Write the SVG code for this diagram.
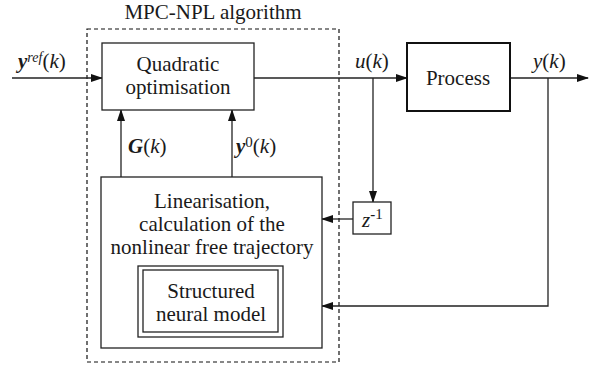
<svg xmlns="http://www.w3.org/2000/svg" width="591" height="365" viewBox="0 0 591 365" font-family="'Liberation Serif', 'Times New Roman', serif" font-size="21">
<defs>
<marker id="ah" markerWidth="12" markerHeight="8" refX="11" refY="4" orient="auto" markerUnits="userSpaceOnUse">
<path d="M0,0 L12,4 L0,8 Z" fill="#111"/>
</marker>
<style>
.box{fill:#fff;stroke:#222;stroke-width:1.3}
.thick{fill:#fff;stroke:#111;stroke-width:2}
.ln{fill:none;stroke:#222;stroke-width:1.3}
.dash{fill:none;stroke:#111;stroke-width:1.2;stroke-dasharray:4,3}
text{fill:#1a1a1a}
.c{text-anchor:middle}
.i{font-style:italic}
.b{font-weight:bold;font-style:italic}
</style>
</defs>
<rect width="591" height="365" fill="#fff"/>
<g id="mpc-frame">
<rect class="dash" x="87" y="29" width="252" height="333"/>
<text x="213" y="19" class="c">MPC-NPL algorithm</text>
</g>
<g id="connectors">
<line class="ln" x1="12" y1="78" x2="102" y2="78" marker-end="url(#ah)"/>
<line class="ln" x1="254" y1="78" x2="407" y2="78" marker-end="url(#ah)"/>
<line class="ln" x1="510" y1="78" x2="588" y2="78" marker-end="url(#ah)"/>
<line class="ln" x1="373" y1="78" x2="373" y2="202" marker-end="url(#ah)"/>
<line class="ln" x1="353" y1="219" x2="322" y2="219" marker-end="url(#ah)"/>
<polyline class="ln" points="548,78 548,306 322,306" marker-end="url(#ah)"/>
<line class="ln" x1="121" y1="177" x2="121" y2="110" marker-end="url(#ah)"/>
<line class="ln" x1="232" y1="177" x2="232" y2="110" marker-end="url(#ah)"/>
<text x="18" y="68"><tspan class="b">y</tspan><tspan class="i" font-size="14" dy="-6">ref</tspan><tspan dy="6">(</tspan><tspan class="i">k</tspan>)</text>
<text x="355" y="68"><tspan class="i">u</tspan>(<tspan class="i">k</tspan>)</text>
<text x="533" y="68"><tspan class="i">y</tspan>(<tspan class="i">k</tspan>)</text>
<text x="128" y="153"><tspan class="b">G</tspan>(<tspan class="i">k</tspan>)</text>
<text x="236" y="153"><tspan class="b">y</tspan><tspan font-size="15" dy="-6">0</tspan><tspan dy="6">(</tspan><tspan class="i">k</tspan>)</text>
</g>
<g id="quadratic">
<rect class="box" x="102" y="43" width="152" height="67"/>
<text x="178" y="71" class="c">Quadratic</text>
<text x="178" y="94" class="c">optimisation</text>
</g>
<g id="process">
<rect class="thick" x="407" y="43" width="103" height="68"/>
<text x="458" y="85" class="c">Process</text>
</g>
<g id="delay">
<rect class="box" x="353" y="202" width="38" height="32"/>
<text x="362" y="227"><tspan class="i">z</tspan><tspan font-size="15" dy="-8" font-weight="bold">-</tspan><tspan font-size="15">1</tspan></text>
</g>
<g id="linearisation">
<rect class="box" x="101" y="177" width="221" height="171"/>
<text x="212" y="208" class="c">Linearisation,</text>
<text x="212" y="231" class="c">calculation of the</text>
<text x="212" y="254" class="c">nonlinear free trajectory</text>
</g>
<g id="neural-model">
<rect class="box" x="138" y="266" width="145" height="71"/>
<rect class="box" x="143" y="270" width="135" height="62"/>
<text x="211" y="298" class="c">Structured</text>
<text x="211" y="321" class="c">neural model</text>
</g>
</svg>
